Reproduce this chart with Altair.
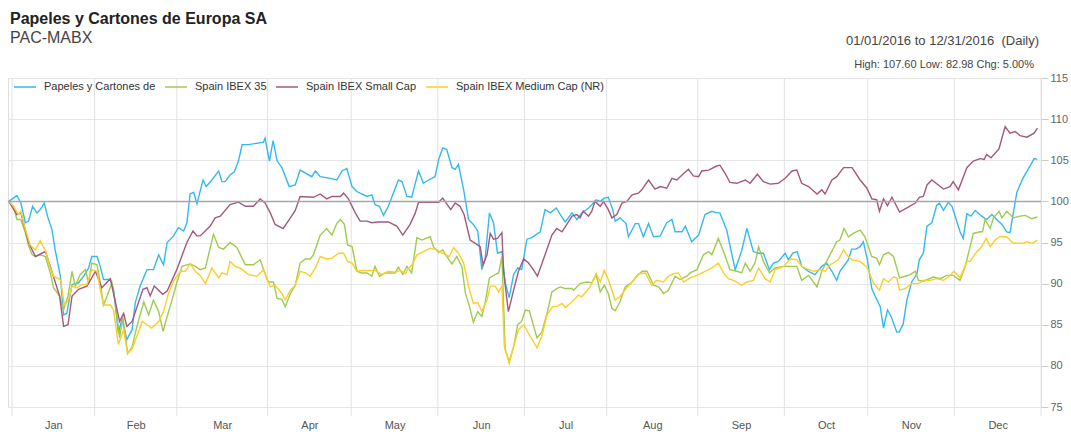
import altair as alt
import pandas as pd

# ---------------- text ----------------
TITLE = "Papeles y Cartones de Europa SA"
SUBTITLE = "PAC-MABX"
RANGE_TEXT = "01/01/2016 to 12/31/2016 \u00a0(Daily)"
STATS_TEXT = "High: 107.60 Low: 82.98 Chg: 5.00%"

series_names = ["Papeles y Cartones de", "Spain IBEX 35", "Spain IBEX Small Cap", "Spain IBEX Medium Cap (NR)"]
series_colors = ["#35b9ed", "#9fcb4f", "#a3587f", "#fcce2a"]

months = ["Jan", "Feb", "Mar", "Apr", "May", "Jun", "Jul", "Aug", "Sep", "Oct", "Nov", "Dec"]
# month boundaries in trading-day index
month_bounds = [0.8, 21.3, 41.7, 64.2, 85.0, 106.5, 128.0, 148.4, 171.0, 192.5, 213.2, 234.7, 256.2]
y_ticks = [75, 80, 85, 90, 95, 100, 105, 110, 115]

# ---------------- data (trading-day index, rebased value) ----------------
pac_days = [0.0, 2.0, 3.0, 4.1, 4.9, 5.9, 7.0, 7.8, 8.8, 9.6, 10.7, 11.5, 12.8, 13.6, 14.4, 15.7, 17.3, 18.6, 19.8, 20.6,
            21.9, 22.7, 23.5, 25.2, 26.0, 27.2, 28.1, 29.3, 30.6, 31.4, 32.6, 34.3, 35.9, 37.2, 38.4, 39.3, 40.9, 42.1, 43.4, 44.2,
            45.0, 45.9, 46.7, 48.2, 49.0, 50.4, 52.1, 52.9, 53.7, 54.9, 56.0, 57.0, 57.9, 59.5, 63.2, 63.6, 64.7, 65.6, 66.6, 67.8,
            69.6, 71.1, 72.3, 75.2, 76.1, 77.3, 79.8, 81.4, 82.7, 83.9, 85.2, 86.4, 87.2, 88.9, 90.1, 90.9, 92.0, 93.0, 94.2, 96.7,
            97.6, 98.8, 100.0, 101.7, 102.9, 104.2, 105.8, 106.7, 107.7, 108.7, 110.0, 110.8, 111.6, 112.9, 114.1, 115.3, 116.4, 117.4, 118.2, 119.3,
            120.3, 121.3, 122.4, 123.2, 124.2, 125.3, 126.3, 127.3, 128.6, 129.8, 131.9, 133.1, 134.4, 135.9, 136.9, 138.1, 139.8, 141.0, 142.2, 143.9,
            144.7, 145.8, 146.8, 147.8, 148.8, 149.9, 150.5, 151.7, 153.2, 153.8, 155.5, 156.3, 157.5, 158.8, 160.0, 161.7, 163.3, 164.6, 165.4, 167.1,
            167.9, 169.5, 171.2, 172.8, 174.5, 175.7, 176.5, 178.2, 179.4, 180.3, 181.9, 183.2, 184.8, 186.1, 187.3, 188.8, 189.8, 191.0, 192.7, 193.5,
            194.6, 195.7, 196.8, 198.5, 200.1, 201.8, 203.0, 204.3, 205.5, 206.3, 208.4, 209.2, 210.3, 211.3, 212.1, 213.1, 214.2, 215.3, 216.3, 217.1,
            218.1, 219.0, 220.4, 221.0, 222.0, 222.9, 224.1, 225.4, 226.0, 227.0, 227.9, 229.1, 230.3, 231.0, 232.0, 233.2, 234.1, 234.9, 236.1, 236.9,
            237.8, 238.8, 239.9, 241.5, 242.7, 244.0, 245.2, 246.5, 247.7, 248.5, 250.2, 251.6, 253.7, 254.5, 255.3]
pac_vals = [100.0, 100.7, 99.8, 97.4, 97.6, 99.4, 98.6, 99.0, 99.8, 98.2, 96.6, 94.1, 90.9, 86.2, 86.4, 89.9, 90.1, 90.9, 91.9, 93.3,
            93.3, 92.1, 90.5, 90.5, 89.3, 84.0, 85.7, 83.2, 84.4, 87.7, 89.7, 91.7, 91.7, 93.5, 92.3, 95.0, 95.8, 96.8, 96.4, 97.4,
            100.9, 101.1, 99.7, 102.6, 101.8, 102.6, 103.7, 102.4, 102.4, 103.2, 103.6, 104.9, 106.9, 106.9, 107.2, 107.7, 104.9, 107.4, 104.9, 104.1,
            101.8, 102.0, 103.8, 103.0, 103.7, 103.0, 102.8, 102.6, 103.7, 104.0, 101.8, 101.2, 101.0, 100.6, 100.8, 99.6, 99.4, 98.3, 99.4, 102.6,
            102.4, 100.6, 100.5, 103.7, 102.2, 102.6, 103.0, 105.1, 106.5, 106.3, 104.1, 103.9, 104.5, 101.4, 97.8, 97.2, 96.4, 91.7, 92.9, 98.6,
            97.4, 93.7, 93.9, 90.1, 88.3, 91.1, 91.9, 91.7, 95.4, 95.6, 96.3, 99.0, 98.6, 99.2, 98.4, 97.5, 98.6, 97.8, 98.6, 99.2,
            99.6, 100.2, 100.0, 100.4, 100.5, 99.0, 97.6, 98.0, 97.3, 95.7, 97.3, 97.3, 95.7, 97.3, 95.7, 95.8, 97.4, 97.8, 96.3, 96.3,
            97.0, 95.1, 95.9, 98.4, 98.8, 98.6, 98.6, 96.5, 93.7, 91.7, 94.0, 96.7, 93.9, 93.7, 93.7, 91.7, 92.5, 92.7, 93.7, 92.9,
            93.7, 93.9, 92.1, 91.5, 91.1, 92.1, 92.5, 91.5, 90.4, 91.5, 92.9, 94.2, 94.2, 94.5, 95.1, 92.9, 89.4, 88.2, 87.2, 84.6,
            86.8, 86.0, 84.1, 84.1, 85.1, 88.0, 90.2, 91.2, 92.9, 93.7, 97.0, 97.4, 99.5, 99.8, 98.9, 99.9, 99.4, 98.2, 96.3, 95.5,
            98.5, 98.2, 98.9, 98.2, 97.8, 98.4, 97.8, 97.2, 96.3, 96.2, 101.1, 102.7, 104.5, 105.2, 105.1]

ibex35_days = [0.0, 1.2, 2.0, 3.0, 4.1, 4.9, 5.8, 6.6, 7.8, 9.1, 10.3, 11.1, 12.6, 13.6, 14.7, 15.7, 16.5, 17.7, 19.0, 19.8,
               20.6, 21.9, 22.7, 23.5, 24.4, 25.6, 26.4, 27.5, 28.3, 29.5, 30.6, 31.8, 33.5, 34.7, 35.9, 37.2, 38.3, 39.3, 40.5, 41.7,
               43.0, 45.0, 46.3, 47.5, 48.8, 50.8, 52.1, 53.3, 54.9, 56.6, 58.7, 60.7, 62.4, 64.1, 64.5, 65.7, 66.6, 67.8, 68.6, 69.9,
               71.1, 72.3, 73.6, 74.8, 75.6, 77.3, 78.9, 80.2, 81.4, 82.3, 83.3, 84.1, 85.2, 86.4, 87.6, 88.9, 90.1, 90.9, 92.0, 93.4,
               94.7, 95.9, 96.7, 97.8, 98.8, 100.0, 101.3, 102.5, 104.6, 105.4, 106.7, 107.7, 108.7, 110.0, 111.2, 112.5, 113.3, 114.3, 115.3, 116.4,
               117.4, 118.2, 119.3, 120.7, 121.6, 122.4, 123.2, 124.2, 125.3, 126.3, 127.3, 128.2, 129.2, 131.1, 132.3, 133.6, 134.8, 136.0, 136.9, 138.1,
               139.8, 140.2, 141.8, 143.5, 144.7, 145.8, 146.8, 147.8, 148.8, 149.7, 150.5, 151.7, 153.0, 154.7, 155.9, 157.2, 158.4, 160.0, 161.3, 162.5,
               163.7, 165.4, 166.6, 168.3, 169.1, 170.8, 172.4, 173.7, 174.5, 176.1, 177.4, 179.0, 180.7, 181.9, 182.8, 184.0, 185.2, 186.1, 187.3, 188.8,
               190.2, 192.3, 194.0, 195.6, 196.8, 198.5, 200.6, 201.8, 203.4, 205.5, 206.3, 207.3, 208.4, 209.6, 211.3, 212.5, 214.2, 215.4, 216.1, 217.1,
               218.3, 219.6, 221.1, 222.5, 223.7, 225.0, 225.8, 227.0, 229.5, 231.2, 232.8, 234.4, 236.1, 237.4, 238.2, 239.4, 241.1, 241.7, 242.3, 243.6,
               244.4, 245.8, 246.5, 247.7, 249.3, 251.0, 252.3, 253.9, 255.3]
ibex35_vals = [100.0, 99.4, 97.8, 97.8, 96.2, 94.6, 93.5, 93.3, 93.5, 93.3, 91.3, 89.5, 88.5, 86.8, 88.5, 91.5, 89.7, 91.1, 91.7, 90.1,
               92.5, 92.3, 90.1, 87.4, 88.5, 90.1, 87.8, 83.4, 86.0, 81.5, 82.3, 84.8, 87.8, 86.2, 88.0, 86.6, 84.2, 86.0, 88.0, 90.1,
               92.1, 92.4, 92.1, 91.7, 91.9, 96.0, 94.4, 94.2, 95.0, 94.4, 92.3, 92.3, 92.9, 90.5, 90.2, 90.2, 88.2, 88.1, 87.2, 88.8,
               89.8, 92.5, 93.0, 93.0, 93.5, 95.9, 96.7, 95.9, 97.3, 97.8, 97.2, 94.7, 94.5, 91.5, 91.3, 91.3, 90.9, 92.1, 90.9, 91.3,
               91.3, 91.3, 92.0, 91.1, 92.1, 91.3, 95.6, 95.3, 95.7, 94.5, 93.8, 94.1, 93.3, 92.4, 93.3, 92.0, 88.9, 87.3, 85.3, 86.6,
               86.0, 87.6, 90.7, 91.1, 91.3, 93.3, 82.0, 80.5, 82.3, 85.0, 85.4, 86.8, 86.7, 83.4, 84.1, 86.4, 89.0, 89.4, 89.6, 89.4,
               89.4, 89.2, 90.0, 90.2, 90.1, 91.1, 89.0, 89.8, 88.8, 87.0, 86.7, 87.8, 89.6, 90.2, 90.9, 91.5, 91.5, 89.8, 89.6, 88.8,
               89.2, 90.9, 90.5, 90.9, 91.3, 91.7, 93.5, 93.9, 93.5, 95.5, 93.9, 91.7, 91.5, 91.3, 92.5, 91.5, 92.5, 94.5, 92.7, 91.3,
               91.9, 92.1, 92.1, 92.1, 90.4, 91.0, 89.6, 91.5, 93.1, 95.1, 95.3, 96.7, 95.7, 96.1, 96.5, 95.7, 93.3, 93.1, 92.3, 93.5,
               93.8, 93.3, 90.7, 90.9, 91.1, 91.5, 90.4, 90.3, 90.8, 90.6, 91.0, 91.0, 90.4, 92.1, 93.7, 96.1, 96.3, 96.3, 97.8, 96.7,
               98.0, 98.8, 98.0, 98.8, 98.0, 98.2, 98.3, 97.9, 98.1]

small_days = [0.0, 2.0, 3.0, 4.9, 6.6, 9.1, 10.3, 12.6, 13.6, 14.7, 15.7, 17.3, 19.4, 21.5, 23.1, 25.2, 26.7, 27.5, 28.5, 29.3,
              30.6, 33.3, 34.3, 35.1, 36.1, 38.2, 39.3, 41.7, 44.2, 45.7, 46.7, 47.5, 50.0, 51.2, 52.5, 54.9, 57.0, 58.7, 60.7, 62.4,
              63.6, 64.9, 66.1, 68.1, 69.9, 71.1, 72.3, 75.6, 77.3, 78.9, 80.2, 82.3, 83.1, 84.3, 86.0, 87.2, 88.9, 90.1, 91.4, 94.2,
              96.3, 97.8, 99.6, 100.9, 101.7, 103.8, 106.7, 107.7, 108.7, 109.7, 110.8, 112.0, 113.0, 114.5, 115.8, 117.0, 117.7, 118.7, 119.5, 120.3,
              121.3, 122.4, 122.8, 124.0, 125.3, 126.5, 127.8, 129.0, 130.2, 131.2, 133.1, 134.8, 136.0, 137.3, 138.5, 139.8, 141.0, 141.8, 142.6, 143.9,
              144.7, 145.5, 146.8, 147.6, 148.8, 149.7, 150.9, 152.2, 153.4, 154.7, 156.3, 157.1, 158.8, 160.4, 161.7, 163.3, 164.6, 165.8, 167.5, 168.7,
              169.9, 171.2, 172.0, 173.7, 175.7, 176.5, 177.8, 179.0, 180.7, 182.8, 184.0, 185.8, 187.3, 189.0, 191.0, 192.7, 194.4, 195.6, 196.8, 198.5,
              200.6, 201.8, 202.6, 204.3, 205.5, 207.2, 209.3, 211.3, 213.0, 214.2, 215.4, 216.1, 217.1, 218.1, 219.2, 221.1, 222.9, 225.0, 226.0, 227.0,
              227.9, 229.1, 232.0, 233.6, 234.4, 235.7, 237.8, 239.4, 241.1, 242.1, 242.7, 243.8, 245.8, 246.5, 247.3, 248.5, 249.8, 251.0, 252.7, 254.5,
              255.3]
small_vals = [100.0, 98.4, 98.6, 95.0, 93.3, 93.9, 92.1, 88.5, 84.8, 85.0, 88.5, 89.3, 89.7, 91.5, 89.5, 90.6, 87.2, 85.4, 86.4, 84.8,
              85.4, 89.3, 89.5, 88.5, 89.7, 88.7, 89.1, 91.7, 95.0, 96.4, 95.8, 95.8, 97.0, 98.0, 98.2, 99.6, 99.9, 99.4, 99.4, 100.3,
              99.8, 98.6, 97.2, 96.7, 98.0, 98.9, 100.6, 100.5, 100.9, 100.3, 100.6, 100.6, 101.0, 100.3, 98.6, 97.6, 97.6, 97.4, 97.5, 97.5,
              97.0, 95.9, 97.2, 98.6, 99.9, 99.9, 99.9, 100.4, 99.7, 99.0, 99.8, 99.4, 98.4, 95.3, 94.9, 94.5, 92.3, 93.5, 96.1, 95.4,
              95.5, 96.2, 91.5, 86.6, 89.2, 91.5, 93.0, 92.5, 91.7, 90.9, 93.5, 95.9, 96.7, 96.3, 97.2, 98.2, 98.4, 98.0, 98.8, 98.2,
              98.8, 100.0, 99.4, 100.0, 99.0, 98.0, 98.4, 99.8, 100.0, 100.8, 101.0, 101.4, 102.6, 101.5, 101.8, 101.6, 102.8, 102.6, 103.4, 103.9,
              103.1, 103.0, 103.7, 103.8, 104.3, 104.4, 103.4, 102.3, 102.2, 102.6, 102.2, 103.3, 102.4, 102.1, 102.2, 102.8, 103.7, 103.8, 102.2, 101.8,
              100.9, 101.4, 100.9, 102.6, 103.0, 104.1, 104.1, 102.6, 101.6, 100.3, 100.2, 98.8, 100.3, 99.5, 100.5, 98.7, 99.2, 99.8, 100.5, 100.6,
              102.0, 102.6, 101.5, 101.8, 102.4, 101.4, 104.1, 104.9, 105.2, 105.1, 105.7, 105.3, 106.4, 107.7, 109.1, 108.3, 108.5, 108.0, 107.8, 108.3,
              108.9]

medium_days = [0.0, 1.2, 2.4, 3.0, 4.1, 5.3, 6.6, 7.8, 9.1, 10.3, 11.1, 12.8, 13.8, 14.8, 15.7, 16.9, 18.2, 19.4, 20.6, 21.9,
               22.7, 23.5, 25.2, 26.0, 27.2, 28.5, 29.5, 30.6, 31.8, 33.1, 34.3, 35.5, 37.2, 38.4, 39.7, 40.9, 42.6, 43.8, 45.0, 46.3,
               47.5, 48.8, 50.4, 52.1, 52.9, 54.2, 54.9, 56.2, 57.4, 59.5, 61.6, 63.2, 64.9, 66.1, 67.8, 68.6, 69.9, 71.1, 72.3, 73.6,
               74.8, 76.1, 77.3, 78.9, 80.2, 81.9, 83.1, 84.1, 85.2, 86.4, 87.6, 89.7, 90.9, 92.6, 94.2, 95.9, 97.2, 98.5, 99.2, 100.0,
               101.3, 102.9, 104.6, 106.3, 107.5, 109.3, 110.4, 111.6, 112.9, 114.1, 115.3, 116.4, 117.4, 118.7, 119.5, 120.7, 121.6, 122.4, 123.0, 124.2,
               125.3, 126.5, 127.8, 129.4, 131.1, 132.3, 133.6, 135.0, 136.0, 137.3, 138.1, 139.8, 141.4, 142.2, 144.3, 145.8, 146.8, 147.8, 148.8, 150.5,
               151.7, 153.2, 154.7, 156.3, 158.0, 159.6, 160.8, 162.5, 163.7, 165.0, 166.2, 167.5, 169.1, 171.2, 172.8, 174.5, 176.1, 177.4, 178.6, 180.3,
               181.9, 183.2, 184.8, 186.1, 187.7, 189.0, 190.2, 192.3, 194.0, 195.6, 196.8, 198.1, 199.8, 201.4, 202.6, 203.9, 205.9, 207.2, 208.0, 209.2,
               211.3, 213.0, 214.6, 216.1, 217.1, 218.3, 219.6, 220.4, 221.1, 222.5, 224.1, 225.8, 227.0, 228.7, 230.3, 232.0, 233.2, 234.6, 236.1, 237.8,
               238.6, 240.3, 241.5, 242.6, 243.6, 244.8, 246.0, 247.7, 249.3, 251.6, 252.7, 253.9, 255.3]
medium_vals = [100.0, 99.4, 98.4, 98.8, 96.6, 94.7, 94.1, 95.2, 94.0, 91.9, 90.9, 90.5, 87.4, 88.0, 89.7, 89.5, 89.9, 89.9, 91.7, 91.5,
               89.3, 87.4, 87.4, 86.8, 82.6, 84.4, 81.5, 82.1, 83.6, 85.4, 85.0, 84.6, 85.4, 86.6, 88.9, 90.3, 91.5, 91.5, 92.4, 91.5,
               91.0, 90.0, 91.9, 90.7, 91.3, 91.1, 92.7, 92.1, 91.9, 91.1, 90.9, 91.7, 89.6, 89.8, 88.8, 88.0, 89.2, 89.8, 91.5, 91.3,
               90.9, 91.9, 93.3, 93.0, 93.1, 93.7, 93.7, 92.7, 92.5, 91.5, 91.6, 91.6, 91.6, 91.1, 91.5, 91.4, 91.6, 91.2, 91.9, 92.2,
               93.5, 93.9, 94.3, 94.1, 93.7, 93.3, 94.4, 93.7, 92.5, 89.7, 87.6, 87.7, 86.6, 88.0, 89.7, 89.7, 89.0, 89.7, 82.4, 80.3,
               82.4, 84.4, 85.0, 83.6, 82.2, 83.6, 86.2, 87.2, 87.2, 87.6, 87.1, 87.8, 88.6, 88.4, 89.6, 91.2, 90.2, 91.6, 90.5, 88.0,
               88.4, 89.4, 90.2, 91.2, 91.3, 89.8, 90.4, 90.2, 90.9, 91.2, 91.3, 90.2, 90.7, 91.1, 91.5, 91.9, 92.5, 91.3, 90.6, 90.3,
               89.8, 90.2, 90.4, 91.9, 90.6, 90.2, 91.7, 92.1, 93.0, 92.9, 92.1, 91.8, 91.5, 91.7, 91.5, 92.3, 92.9, 94.1, 93.5, 92.9,
               92.7, 92.0, 90.1, 89.2, 90.6, 90.2, 90.8, 90.7, 89.2, 89.4, 90.0, 90.0, 90.4, 90.4, 90.6, 90.4, 90.8, 91.5, 90.7, 92.7,
               92.7, 93.9, 94.5, 95.5, 94.5, 95.3, 95.7, 95.7, 94.9, 94.9, 95.1, 94.9, 95.3]

# ---------------- build tables ----------------
rows = []
for name, days, vals in zip(series_names,
                            [pac_days, ibex35_days, small_days, medium_days],
                            [pac_vals, ibex35_vals, small_vals, medium_vals]):
    for d, v in zip(days, vals):
        rows.append({"day": d, "value": v, "series": name})
df = pd.DataFrame(rows)

bounds_df = pd.DataFrame({"b": month_bounds})
mids = [round((a + b) / 2, 2) for a, b in zip(month_bounds[:-1], month_bounds[1:])]
label_expr = ""
for i, m in enumerate(months[:-1]):
    label_expr += f"datum.value < {month_bounds[i + 1]} ? '{m}' : "
label_expr += f"'{months[-1]}'"

W, H = 1033, 329
FONT = "Liberation Sans"

x_scale = alt.Scale(domain=[-0.2, 256.2], nice=False, zero=False)
y_scale = alt.Scale(domain=[75, 115], nice=False, zero=False)

month_rules = alt.Chart(bounds_df).mark_rule(color="#e3e3e3", strokeWidth=1).encode(
    x=alt.X("b:Q", scale=x_scale),
    y=alt.value(0),
    y2=alt.value(H + 9),
)

baseline = alt.Chart(pd.DataFrame({"v": [100]})).mark_rule(color="#a6a6a6", strokeWidth=1.5).encode(
    y=alt.Y("v:Q", scale=y_scale),
)

lines = alt.Chart(df).mark_line(strokeWidth=1.4, interpolate="linear").encode(
    x=alt.X("day:Q", scale=x_scale,
            axis=alt.Axis(values=mids, labelExpr=label_expr, grid=False, ticks=False, domain=False,
                          labelPadding=12, labelFontSize=11, labelColor="#555", labelFont=FONT, title=None)),
    y=alt.Y("value:Q", scale=y_scale,
            axis=alt.Axis(orient="right", values=y_ticks, grid=True, gridColor="#e6e6e6", tickColor="#cccccc",
                          tickSize=7, domain=False, labelPadding=2, labelFontSize=11, labelColor="#666",
                          labelFont=FONT, title=None)),
    color=alt.Color("series:N", scale=alt.Scale(domain=series_names, range=series_colors),
                    legend=alt.Legend(orient="none", legendX=5, legendY=-3, direction="horizontal", title=None,
                                      symbolType="stroke", symbolSize=484, symbolStrokeWidth=1.5,
                                      labelFontSize=11, labelColor="#333", labelFont=FONT,
                                      columnPadding=6, labelOffset=7, labelLimit=300)),
    order=alt.Order("day:Q"),
    detail="series:N",
)

def header(text, x, y, size, weight="normal", color="#333", align="left"):
    return alt.Chart(pd.DataFrame({"t": [text]})).mark_text(
        align=align, baseline="alphabetic", fontSize=size, fontWeight=weight, color=color, font=FONT
    ).encode(x=alt.value(x), y=alt.value(y), text="t:N")

title_t = header(TITLE, 2, -54, 16, "bold", "#222")
sub_t = header(SUBTITLE, 2, -35.5, 16, "normal", "#444")
range_t = header(RANGE_TEXT, 1031, -33, 13, "normal", "#444", "right")
stats_t = header(STATS_TEXT, 1026, -10.5, 11, "normal", "#444", "right")

chart = alt.layer(month_rules, lines, baseline, title_t, sub_t, range_t, stats_t).properties(
    width=W, height=H,
    autosize=alt.AutoSizeParams(type="none"),
    padding={"left": 8, "top": 78, "right": 30, "bottom": 25},
).configure_view(stroke="#dcdcdc", strokeWidth=1).configure(background="white")

chart.save("out.html", embed_options={"renderer": "svg", "actions": False})
